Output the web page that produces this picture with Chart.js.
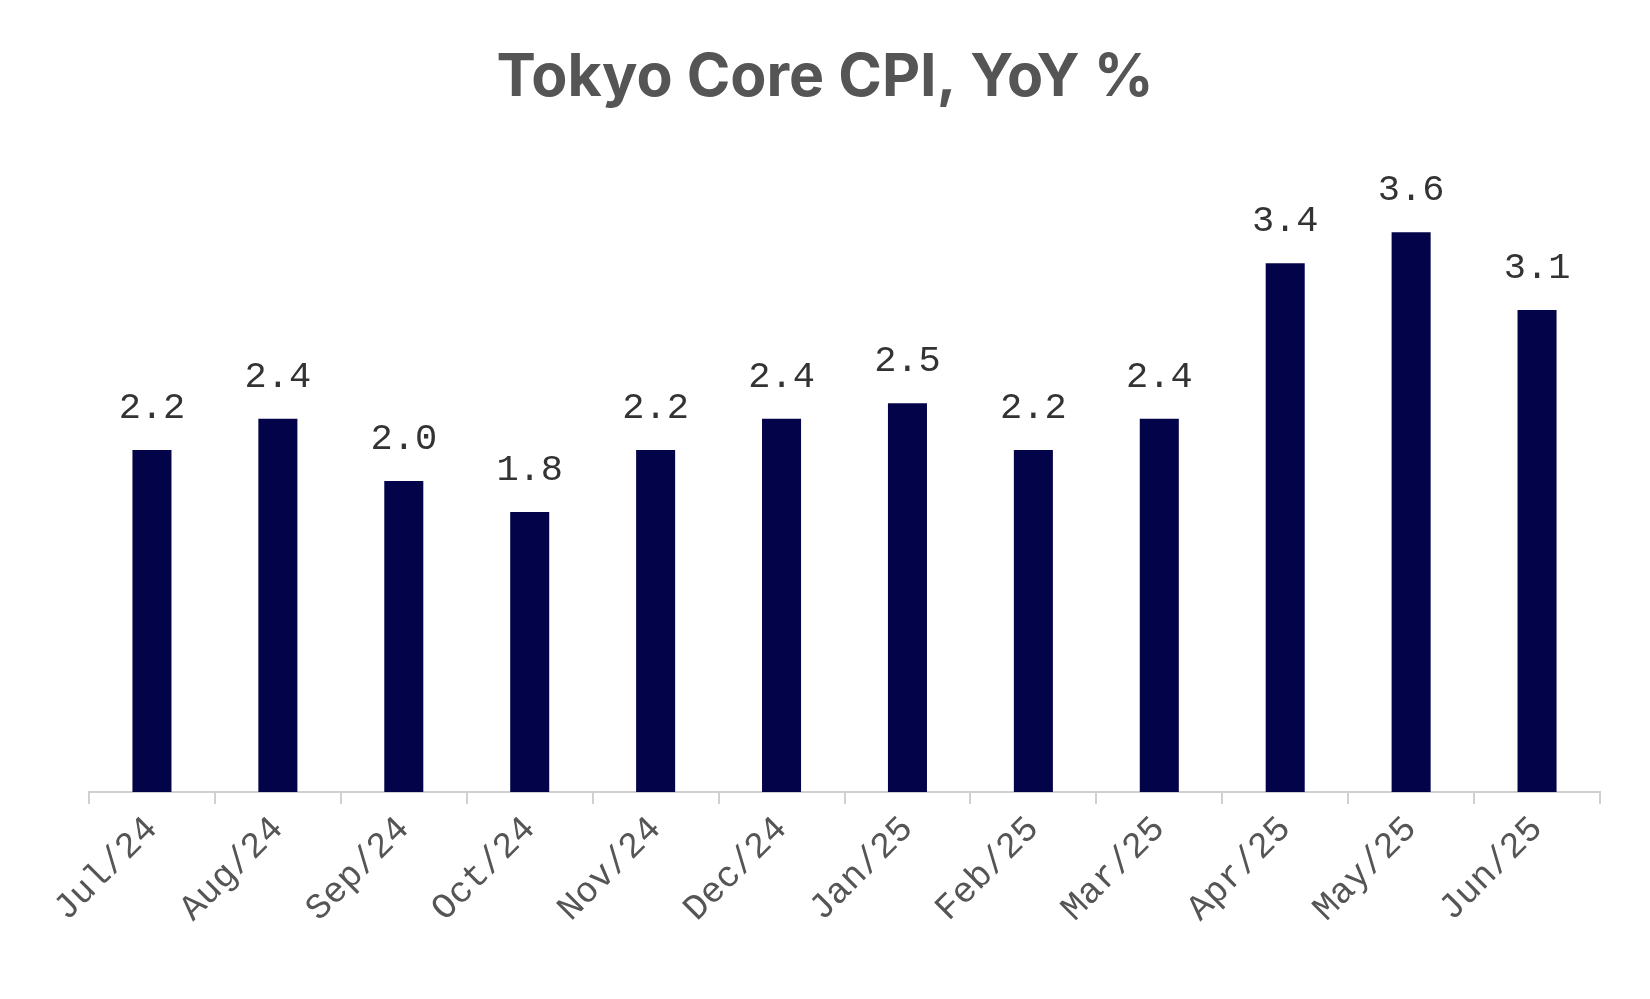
<!DOCTYPE html>
<html><head><meta charset="utf-8">
<script src="https://cdn.jsdelivr.net/npm/chart.js@4"></script>
<style>html,body{margin:0;padding:0;background:#fff}#w{width:1650px;height:999px;position:relative}</style>
</head><body><div id="w"><canvas id="c"></canvas></div>
<script>
const categories = ["Jul/24","Aug/24","Sep/24","Oct/24","Nov/24","Dec/24","Jan/25","Feb/25","Mar/25","Apr/25","May/25","Jun/25"];
const values = [2.2,2.4,2.0,1.8,2.2,2.4,2.5,2.2,2.4,3.4,3.6,3.1];
const titleText = "Tokyo Core CPI, YoY %";

const overlay = {
  id:'overlay',
  afterDatasetsDraw(chart){
    const ctx = chart.ctx;
    ctx.save();
    ctx.fillStyle = '#555';
    ctx.font = 'bold 59px Inter, "Open Sans", sans-serif';
    ctx.textAlign = 'center'; ctx.textBaseline = 'middle';
    ctx.fillText(titleText, 825, 78);
    ctx.fillStyle = '#333';
    ctx.font = '37px "Liberation Mono", "DejaVu Sans Mono", monospace';
    ctx.textBaseline = 'alphabetic';
    chart.getDatasetMeta(0).data.forEach((b,i)=>{
      ctx.fillText(values[i].toFixed(1), b.x, b.y - 32);
    });
    ctx.restore();
  }
};

new Chart(document.getElementById('c'), {
  type:'bar',
  data:{labels:categories, datasets:[{data:values, backgroundColor:'#03034a', barPercentage:0.31, categoryPercentage:1}]},
  options:{
    responsive:true, maintainAspectRatio:false, animation:false,
    layout:{padding:{left:89, right:50, top:170, bottom:0}},
    plugins:{legend:{display:false}, tooltip:{enabled:false}, title:{display:false}},
    scales:{
      y:{display:false, min:0, max:4},
      x:{
        afterFit(s){ s.height = 207; },
        border:{display:true, color:'#d0d0d0', width:2},
        grid:{offset:true, drawOnChartArea:false, drawTicks:true, tickLength:12, color:'#d0d0d0', lineWidth:2},
        ticks:{maxRotation:45, minRotation:45, color:'#555', padding:4,
          font:{family:'"Liberation Mono", "DejaVu Sans Mono", monospace', size:36}}
      }
    }
  },
  plugins:[overlay]
});
</script></body></html>
